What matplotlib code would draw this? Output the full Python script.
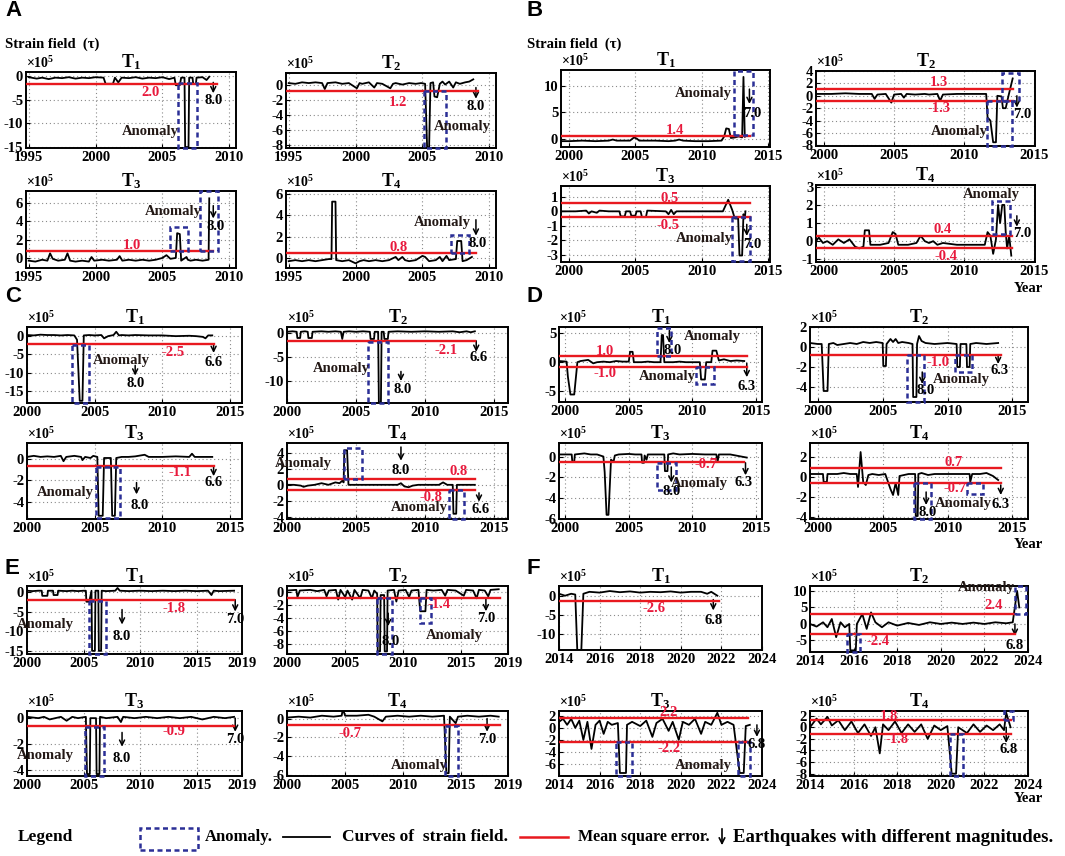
import matplotlib.pyplot as plt
from matplotlib.patches import Rectangle, FancyArrowPatch
from matplotlib.lines import Line2D

plt.rcParams['font.family'] = ['Liberation Serif', 'DejaVu Serif']
plt.rcParams['font.weight'] = 'bold'
plt.rcParams['axes.unicode_minus'] = False
plt.rcParams['mathtext.fontset'] = 'custom'
plt.rcParams['mathtext.rm'] = 'Liberation Serif'
plt.rcParams['mathtext.bf'] = 'Liberation Serif:bold'
plt.rcParams['mathtext.it'] = 'Liberation Serif:italic'

# strain field curves, (year, tau / 1e5)
A_T1 = [(1995.0, -0.2), (1995.6, -0.5), (1996.0, -0.3), (1996.5, -0.6), (1997.0, -0.3), (1997.5, -0.4),
        (1998.0, -0.2), (1998.5, -0.5), (1999.0, -0.3), (1999.5, -0.4), (2000.0, -0.2), (2000.6, -0.3),
        (2000.75, -1.6), (2001.3, -1.6), (2001.45, -0.3), (2001.7, -1.3), (2001.95, -0.3), (2002.5, -0.4),
        (2003.0, -0.2), (2003.5, -0.5), (2004.0, -0.3), (2004.5, -0.4), (2005.0, -0.2), (2005.5, -0.6),
        (2005.9, -0.3), (2006.0, -1.9), (2006.3, -1.9), (2006.4, -0.3), (2006.65, -0.3), (2006.7, -15.0),
        (2006.95, -15.0), (2007.0, -0.3), (2007.25, -0.3), (2007.3, -1.6), (2007.5, -1.6), (2007.55, -0.3),
        (2008.0, -0.2), (2008.3, -0.8), (2008.5, -0.1)]
A_T2 = [(1995.0, 0.3), (1995.5, 0.2), (1996.0, 0.4), (1996.5, 0.3), (1997.0, 0.4), (1997.5, 0.3),
        (1997.7, -0.5), (1997.9, 0.3), (1998.5, 0.4), (1999.0, 0.2), (1999.5, 0.3), (2000.1, -0.4),
        (2000.3, 0.3), (2000.5, 0.2), (2001.0, 0.4), (2001.4, -0.3), (2001.6, 0.3), (2002.0, 0.2),
        (2002.6, -0.4), (2002.8, 0.2), (2003.0, 0.3), (2003.5, 0.1), (2004.0, 0.3), (2004.5, 0.2),
        (2004.9, 0.3), (2005.2, 0.2), (2005.35, -8.3), (2005.5, -8.3), (2005.6, 0.3), (2005.8, 0.4),
        (2005.9, -1.5), (2006.1, -1.6), (2006.3, 0.2), (2006.5, 0.5), (2006.7, 0.1), (2007.0, 0.5),
        (2007.3, -0.3), (2007.5, 0.4), (2007.8, 0.2), (2008.2, 0.4), (2008.5, 0.5), (2008.8, 0.8)]
A_T3 = [(1995.0, -0.3), (1995.5, -0.4), (1996.0, -0.2), (1996.4, -0.3), (1996.6, 0.5), (1996.8, -0.1),
        (1997.2, -0.3), (1997.7, -0.2), (1997.9, 0.5), (1998.1, -0.3), (1998.5, -0.4), (1999.0, -0.3),
        (1999.5, -0.4), (1999.7, 0.1), (1999.9, -0.3), (2000.5, -0.2), (2001.0, -0.3), (2001.6, -0.2),
        (2001.8, 0.2), (2002.0, -0.3), (2002.5, -0.2), (2003.0, -0.3), (2003.5, -0.2), (2004.0, -0.3),
        (2004.5, -0.2), (2005.0, 0.0), (2005.3, 0.3), (2005.6, -0.1), (2006.0, 0.0), (2006.1, 2.7),
        (2006.3, 2.6), (2006.4, -0.3), (2006.8, 0.1), (2006.9, -0.2), (2007.1, -0.3), (2007.5, -0.2),
        (2008.0, -0.3), (2008.45, -0.2), (2008.5, 6.5)]
A_T4 = [(1995.0, -0.3), (1995.5, -0.2), (1996.0, -0.3), (1996.5, -0.2), (1997.0, -0.3), (1997.5, -0.2),
        (1998.0, -0.1), (1998.2, -0.1), (1998.25, 5.3), (1998.5, 5.3), (1998.55, -0.2), (1999.0, -0.3),
        (1999.5, -0.2), (2000.0, -0.5), (2000.3, -0.3), (2000.6, -0.2), (2001.0, -0.3), (2001.5, -0.2),
        (2002.0, -0.3), (2002.5, -0.2), (2003.0, 0.1), (2003.2, -0.2), (2003.5, 0.1), (2003.7, -0.2),
        (2004.0, -0.3), (2004.5, -0.2), (2005.0, 0.2), (2005.2, 0.1), (2005.5, -0.3), (2006.0, -0.2),
        (2006.3, 0.1), (2006.5, -0.3), (2006.8, 0.2), (2007.0, -0.2), (2007.5, -0.1), (2007.6, 1.6),
        (2007.9, 1.6), (2008.0, -0.3), (2008.3, -0.2), (2008.7, 0.1)]

B_T1 = [(1999.4, -0.4), (2000.0, -0.4), (2001.0, -0.3), (2002.0, -0.4), (2003.0, -0.3), (2003.3, -0.1),
        (2003.6, -0.3), (2004.6, -0.3), (2004.9, 0.3), (2005.1, 0.1), (2005.3, -0.3), (2006.5, -0.3),
        (2007.5, -0.4), (2008.0, -0.3), (2008.3, -0.1), (2008.6, -0.3), (2009.5, -0.4), (2010.5, -0.4),
        (2011.5, -0.3), (2011.7, 0.5), (2011.85, 2.0), (2012.05, 1.9), (2012.2, 0.2), (2012.5, 0.3),
        (2012.8, 0.5), (2013.05, 0.3), (2013.15, 11.7), (2013.25, 0.4), (2013.35, 0.6)]
B_T2 = [(1999.4, 0.3), (2000.5, 0.3), (2001.5, 0.4), (2002.5, 0.3), (2003.4, 0.3), (2003.6, -0.5),
        (2003.8, 0.2), (2004.4, 0.3), (2004.8, -1.1), (2005.0, 0.2), (2005.5, 0.3), (2005.7, -0.3),
        (2005.9, 0.3), (2006.5, 0.2), (2007.2, 0.3), (2007.5, 0.2), (2008.1, 0.3), (2008.3, -0.8),
        (2008.5, 0.2), (2009.5, 0.3), (2010.5, 0.3), (2011.6, 0.3), (2011.7, -3.5), (2011.9, -4.0),
        (2012.1, -7.5), (2012.3, -7.5), (2012.4, 0.0), (2012.7, -0.1), (2012.8, -2.0), (2013.0, -2.0),
        (2013.2, 0.0), (2013.5, 2.8)]
B_T3 = [(1999.4, 0.0), (2000.5, 0.0), (2001.3, 0.05), (2001.5, -0.15), (2001.7, 0.0), (2002.1, -0.1),
        (2002.3, 0.05), (2003.0, 0.0), (2003.8, 0.0), (2003.9, -0.35), (2004.2, -0.35), (2004.3, 0.0),
        (2004.6, 0.0), (2004.7, -0.3), (2005.0, -0.3), (2005.1, 0.0), (2005.4, 0.0), (2005.5, -0.4),
        (2005.8, -0.4), (2005.9, 0.05), (2007.3, 0.0), (2007.5, -0.2), (2007.7, 0.1), (2007.9, -0.2),
        (2008.1, 0.0), (2009.0, 0.0), (2010.5, 0.0), (2011.6, 0.0), (2012.0, 0.8), (2012.3, 0.1),
        (2012.5, -0.5), (2012.75, -0.5), (2012.85, -3.05), (2013.05, -3.05), (2013.15, -0.2),
        (2013.25, -0.5), (2013.3, 0.0)]
B_T4 = [(1999.4, 0.0), (1999.6, 0.2), (1999.9, -0.1), (2000.2, 0.0), (2000.6, -0.2), (2001.0, 0.1),
        (2001.4, -0.1), (2001.8, 0.1), (2002.2, -0.3), (2002.5, -0.4), (2002.8, -0.3), (2002.9, 0.6),
        (2003.2, 0.6), (2003.3, -0.2), (2004.0, -0.2), (2004.6, -0.1), (2004.9, 0.5), (2005.1, 0.4),
        (2005.3, -0.2), (2006.0, -0.2), (2006.6, -0.1), (2006.9, 0.3), (2007.2, 0.0), (2007.5, -0.1),
        (2007.8, 0.0), (2008.1, -0.2), (2008.5, -0.1), (2009.5, -0.2), (2010.5, -0.2), (2011.5, -0.2),
        (2011.7, 0.5), (2011.9, 0.3), (2012.1, -0.7), (2012.3, 0.1), (2012.45, 2.0), (2012.6, 1.0),
        (2012.75, 2.0), (2012.9, 2.0), (2013.0, 0.5), (2013.1, -0.4), (2013.25, 0.3), (2013.4, -0.8)]

C_T1 = [(2000.0, 0.3), (2000.5, 0.2), (2001.0, 0.4), (2001.5, 0.3), (2002.0, 0.3), (2002.5, 0.2),
        (2003.0, 0.3), (2003.5, 0.2), (2003.7, -1.0), (2003.9, -17.7), (2004.1, -17.7), (2004.2, 0.2),
        (2004.6, 0.3), (2005.0, 0.2), (2005.5, 0.3), (2005.7, -0.6), (2006.0, 0.0), (2006.4, 0.3),
        (2006.6, 1.2), (2006.8, 0.2), (2007.0, 0.3), (2007.5, 0.2), (2008.0, 0.3), (2009.0, 0.2),
        (2010.0, 0.2), (2011.0, 0.0), (2012.0, 0.1), (2012.5, 0.0), (2013.0, -0.2), (2013.2, -0.6),
        (2013.4, 0.2), (2013.7, 0.2)]
C_T2 = [(2000.0, 0.3), (2000.4, 0.4), (2000.7, 0.3), (2000.75, -1.0), (2000.95, -1.0), (2001.0, 0.3),
        (2001.3, 0.4), (2001.5, 0.3), (2001.55, -1.0), (2001.8, -1.0), (2001.85, 0.3), (2002.5, 0.4),
        (2003.0, 0.3), (2003.5, 0.4), (2003.9, 0.3), (2004.0, -1.2), (2004.1, 0.3), (2004.5, 0.4),
        (2005.0, 0.3), (2005.5, 0.4), (2006.0, 0.3), (2006.05, -1.2), (2006.3, -1.2), (2006.35, 0.3),
        (2006.6, 0.3), (2006.65, -14.5), (2006.8, -14.5), (2006.85, 0.3), (2007.0, 0.3), (2007.05, -1.2),
        (2007.3, -1.2), (2007.35, 0.3), (2008.0, 0.4), (2009.0, 0.3), (2010.0, 0.4), (2011.0, 0.3),
        (2012.0, 0.4), (2012.5, 0.2), (2013.0, 0.4), (2013.3, 0.2), (2013.6, 0.4)]
C_T3 = [(2000.0, 0.2), (2000.5, 0.3), (2001.0, 0.2), (2001.5, 0.25), (2002.0, 0.2), (2002.5, 0.3),
        (2002.7, -0.2), (2002.9, 0.2), (2003.5, 0.3), (2004.0, 0.2), (2004.1, -0.1), (2004.3, 0.2),
        (2004.7, 0.1), (2004.9, 0.3), (2005.2, 0.2), (2005.3, -5.3), (2005.6, -5.3), (2005.7, 0.1),
        (2006.2, 0.1), (2006.3, -5.3), (2006.5, -5.3), (2006.6, 0.1), (2007.0, 0.2), (2007.5, 0.2),
        (2008.0, 0.25), (2008.7, 0.4), (2009.0, 0.2), (2010.0, 0.2), (2011.0, 0.25), (2012.0, 0.2),
        (2012.2, 0.5), (2012.4, 0.2), (2013.0, 0.2), (2013.7, 0.2)]
C_T4 = [(2000.0, 0.0), (2000.5, 0.0), (2001.0, -0.1), (2001.2, -0.25), (2001.5, -0.1), (2002.0, 0.0),
        (2002.5, 0.2), (2003.0, 0.0), (2003.5, 0.3), (2003.8, 0.2), (2004.0, 0.5), (2004.1, 0.3),
        (2004.15, 4.3), (2004.35, 4.3), (2004.45, 0.0), (2005.0, 0.0), (2006.0, 0.0), (2007.0, 0.0),
        (2008.0, 0.0), (2008.25, 0.2), (2008.5, -0.2), (2008.8, -0.3), (2009.1, -0.1), (2009.5, 0.0),
        (2010.0, 0.0), (2011.0, 0.0), (2011.3, 0.3), (2011.6, 0.0), (2012.0, 0.0), (2012.05, -3.6),
        (2012.25, -3.6), (2012.3, 0.0), (2012.9, 0.0), (2013.6, 0.0)]

D_T1 = [(1999.5, 0.2), (2000.1, 0.1), (2000.2, -2.5), (2000.4, -5.6), (2000.7, -5.6), (2000.95, 0.0),
        (2001.2, 0.2), (2001.8, 0.4), (2002.2, -0.2), (2002.5, 0.0), (2003.0, 0.1), (2003.5, 0.0),
        (2004.0, 0.2), (2004.5, 0.1), (2005.0, 0.1), (2005.1, 1.8), (2005.3, 1.8), (2005.4, 0.0),
        (2006.0, 0.0), (2006.5, 0.1), (2007.0, 0.0), (2007.5, 0.0), (2007.6, 4.7), (2007.7, 4.7),
        (2007.8, 0.0), (2008.5, 0.0), (2009.0, 0.1), (2009.5, 0.0), (2010.0, 0.0), (2010.6, 0.0),
        (2010.7, -3.0), (2011.0, -3.0), (2011.1, 0.0), (2011.5, 0.0), (2011.6, 2.0), (2011.9, 2.0),
        (2012.1, 0.3), (2012.5, 0.5), (2013.0, 0.2), (2013.5, 0.3), (2014.1, 0.2)]
D_T2 = [(1999.4, 0.4), (2000.0, 0.3), (2000.3, 0.3), (2000.45, -4.4), (2000.75, -4.4), (2000.85, 0.3),
        (2001.2, 0.4), (2001.5, 0.2), (2002.0, 0.3), (2002.5, 0.4), (2003.0, 0.3), (2003.5, 0.5),
        (2004.0, 0.4), (2004.5, 0.5), (2005.0, 0.4), (2005.05, -1.9), (2005.25, -1.9), (2005.3, 0.3),
        (2005.6, 0.8), (2005.8, 0.5), (2006.0, 0.8), (2006.2, 0.4), (2006.5, 0.5), (2007.0, 0.4),
        (2007.3, 0.3), (2007.35, -5.0), (2007.6, -5.0), (2007.65, 0.3), (2007.8, 1.1), (2008.0, 0.6),
        (2008.3, 0.4), (2009.0, 0.3), (2010.0, 0.4), (2010.7, 0.3), (2010.75, -2.0), (2010.95, -2.0),
        (2011.0, 0.3), (2011.45, 0.3), (2011.5, -2.0), (2011.7, -2.0), (2011.75, 0.3), (2012.2, 0.4),
        (2013.0, 0.3), (2013.9, 0.4)]
D_T3 = [(1999.5, 0.2), (2000.0, 0.2), (2000.5, 0.2), (2000.55, -0.5), (2000.7, -0.5), (2000.75, 0.2),
        (2001.5, 0.3), (2002.0, 0.2), (2002.5, 0.2), (2003.0, 0.0), (2003.1, -1.5), (2003.25, -5.6),
        (2003.4, -5.6), (2003.6, -0.3), (2003.8, -0.5), (2003.9, 0.1), (2004.2, 0.2), (2005.0, 0.25),
        (2005.5, 0.2), (2006.0, 0.2), (2006.05, -0.6), (2006.2, -0.6), (2006.25, 0.1), (2006.4, -0.3),
        (2006.5, 0.2), (2007.0, 0.2), (2007.8, 0.2), (2007.85, -1.4), (2008.05, -1.4), (2008.1, 0.2),
        (2008.5, 0.3), (2009.0, 0.2), (2010.0, 0.25), (2011.0, 0.2), (2011.9, 0.2), (2012.0, -0.5),
        (2012.1, 0.2), (2013.0, 0.2), (2014.3, -0.1)]
D_T4 = [(1999.4, 0.3), (2000.0, 0.3), (2000.4, 0.3), (2000.45, -0.5), (2000.7, -0.5), (2000.75, 0.3),
        (2001.5, 0.3), (2002.0, 0.4), (2002.5, 0.3), (2003.0, 0.3), (2003.1, -1.0), (2003.3, 2.5),
        (2003.5, -0.5), (2003.7, -0.8), (2003.9, 0.2), (2004.2, 0.3), (2004.7, 0.2), (2005.2, 0.3),
        (2005.6, -1.2), (2005.8, -1.8), (2006.0, -0.6), (2006.2, -1.8), (2006.3, 0.1), (2007.0, 0.3),
        (2007.5, 0.3), (2007.55, -3.9), (2007.7, -3.9), (2007.75, 0.3), (2008.0, 0.4), (2008.5, 0.2),
        (2009.0, 0.3), (2010.0, 0.3), (2011.0, 0.3), (2011.7, 0.3), (2011.75, -0.5), (2011.9, 0.3),
        (2012.5, 0.3), (2013.0, 0.4), (2013.5, 0.1), (2013.9, -0.3)]

E_T1 = [(2000.0, 0.3), (2000.5, 0.2), (2001.0, 0.3), (2001.3, 0.3), (2001.35, -1.0), (2001.8, -1.0),
        (2001.85, 0.3), (2002.3, 0.3), (2002.35, -0.8), (2002.7, -0.8), (2002.75, 0.3), (2003.5, 0.2),
        (2004.0, 0.3), (2004.5, 0.2), (2005.0, 0.3), (2005.2, 0.3), (2005.25, -2.5), (2005.5, -2.5),
        (2005.7, 0.3), (2005.75, -15.0), (2006.0, -15.0), (2006.05, 0.3), (2006.3, 0.3), (2006.35, -15.0),
        (2006.55, -15.0), (2006.6, 0.3), (2007.0, 0.2), (2007.8, 0.3), (2008.0, 1.0), (2008.2, 0.3),
        (2009.0, 0.2), (2010.0, 0.3), (2011.0, 0.2), (2012.0, 0.3), (2013.0, 0.2), (2014.0, 0.3),
        (2015.0, 0.2), (2016.0, 0.3), (2016.3, -0.8), (2016.5, 0.3), (2017.0, 0.2), (2018.3, 0.3)]
E_T2 = [(2000.0, 0.2), (2000.8, 0.3), (2000.9, -0.8), (2001.1, 0.2), (2002.0, 0.3), (2002.6, 0.1),
        (2003.2, 0.3), (2003.4, -0.7), (2003.6, 0.2), (2004.2, 0.3), (2004.4, -1.2), (2004.6, 0.3),
        (2005.0, -0.8), (2005.2, 0.2), (2005.6, -1.2), (2005.8, 0.3), (2006.3, -1.0), (2006.5, 0.3),
        (2007.0, 0.2), (2007.3, -1.0), (2007.5, 0.2), (2007.75, -0.3), (2007.8, -9.2), (2008.0, -9.2),
        (2008.05, -0.5), (2008.35, -0.5), (2008.4, -9.2), (2008.6, -9.2), (2008.65, 0.2), (2009.2, 0.3),
        (2009.4, -1.5), (2009.6, 0.2), (2010.2, 0.3), (2010.5, -0.8), (2010.7, 0.2), (2011.3, 0.3),
        (2011.45, -3.0), (2011.9, -3.0), (2012.0, 0.3), (2012.6, 0.2), (2013.3, 0.3), (2013.6, -0.6),
        (2013.8, 0.3), (2014.5, 0.2), (2015.2, -0.6), (2015.4, 0.3), (2016.0, 0.2), (2016.3, -1.0),
        (2016.5, 0.3), (2017.0, 0.2), (2017.3, -0.7), (2017.5, 0.3), (2018.2, 0.4)]
E_T3 = [(2000.0, 0.1), (2001.0, 0.0), (2001.5, 0.1), (2002.0, -0.1), (2003.0, 0.1), (2003.5, -0.2),
        (2004.0, 0.1), (2004.5, 0.0), (2005.2, 0.1), (2005.3, -4.3), (2005.55, -4.3), (2005.6, 0.0),
        (2006.1, 0.0), (2006.15, -4.3), (2006.4, -4.3), (2006.45, 0.1), (2007.0, 0.0), (2008.0, 0.1),
        (2008.3, -0.3), (2008.5, 0.1), (2009.5, 0.0), (2010.5, 0.1), (2011.5, 0.0), (2012.5, 0.1),
        (2013.5, 0.0), (2014.5, 0.1), (2015.5, -0.1), (2016.5, 0.1), (2017.5, 0.0), (2018.3, 0.1)]
E_T4 = [(2000.0, 0.1), (2001.0, 0.2), (2002.0, 0.1), (2003.0, 0.3), (2004.0, 0.2), (2004.7, 0.3),
        (2004.8, 1.0), (2005.0, 0.3), (2006.0, 0.3), (2007.0, 0.4), (2007.5, 0.2), (2008.2, -0.3),
        (2008.5, 0.2), (2009.5, 0.3), (2010.5, 0.2), (2011.5, 0.3), (2012.5, 0.2), (2013.5, 0.3),
        (2013.7, -5.8), (2013.9, -5.8), (2014.0, 0.2), (2014.5, -0.5), (2014.7, 0.2), (2015.5, 0.3),
        (2016.5, 0.2), (2017.5, 0.3), (2018.2, 0.2)]

F_T1 = [(2014.0, 0.5), (2014.3, 0.0), (2014.6, 0.5), (2014.8, 0.3), (2014.9, -14.0), (2015.1, -14.0),
        (2015.2, 0.5), (2015.5, 1.0), (2016.0, 0.8), (2016.5, 1.2), (2017.0, 0.9), (2017.5, 1.1),
        (2018.0, 0.8), (2018.5, 1.0), (2019.0, 0.9), (2019.5, 1.1), (2020.0, 0.8), (2020.5, 1.0),
        (2021.0, 1.0), (2021.3, 0.5), (2021.5, 1.0), (2021.8, 0.0)]
F_T2 = [(2014.0, 0.0), (2014.3, -0.8), (2014.6, 0.5), (2014.8, -1.0), (2015.0, 1.5), (2015.2, -4.0),
        (2015.4, 0.5), (2015.6, -1.0), (2015.8, 0.0), (2015.85, -8.0), (2016.1, -8.0), (2016.15, 0.0),
        (2016.4, 3.0), (2016.6, -1.5), (2016.8, 3.5), (2017.0, 0.5), (2017.3, -1.0), (2017.6, 0.5),
        (2018.0, -0.5), (2018.5, 0.3), (2019.0, -0.3), (2019.5, 0.5), (2020.0, 0.0), (2020.5, 0.4),
        (2021.0, 0.0), (2021.5, 0.4), (2022.0, 0.0), (2022.5, 0.5), (2023.0, 0.2), (2023.3, 0.5),
        (2023.5, 10.0), (2023.6, 5.0)]
F_T3 = [(2014.0, 1.0), (2014.2, 1.5), (2014.4, 0.5), (2014.6, 1.5), (2014.8, 0.0), (2015.0, 1.2),
        (2015.2, -2.0), (2015.4, 1.0), (2015.6, -3.5), (2015.8, 0.5), (2016.0, 1.2), (2016.2, -1.0),
        (2016.4, 1.0), (2016.6, 0.5), (2016.9, 0.8), (2017.0, -7.5), (2017.3, -7.5), (2017.35, 0.5),
        (2017.6, 1.0), (2018.0, 0.3), (2018.3, 1.2), (2018.6, -1.5), (2018.8, 0.8), (2019.1, 1.5),
        (2019.4, -0.5), (2019.6, 1.0), (2019.9, -2.0), (2020.1, 1.0), (2020.4, 0.5), (2020.7, 1.5),
        (2021.0, -1.0), (2021.2, 1.0), (2021.5, 0.5), (2021.8, 2.5), (2022.0, 0.5), (2022.3, 1.0),
        (2022.6, 0.5), (2022.9, -7.5), (2023.1, -7.5), (2023.2, 0.3), (2023.4, 0.5)]
F_T4 = [(2014.0, 0.0), (2014.3, 1.5), (2014.5, 0.5), (2014.8, 1.8), (2015.0, 0.3), (2015.3, 1.2),
        (2015.6, -0.5), (2015.9, 1.0), (2016.2, -1.0), (2016.5, 0.5), (2016.8, -1.5), (2017.0, 0.0),
        (2017.2, -4.5), (2017.35, 0.5), (2017.6, -0.5), (2017.9, 1.0), (2018.2, -1.0), (2018.5, 0.5),
        (2018.8, -0.8), (2019.1, 0.5), (2019.4, -2.0), (2019.7, 0.3), (2020.0, -0.5), (2020.3, 0.2),
        (2020.5, -8.0), (2020.7, -8.0), (2020.8, 0.0), (2021.2, -1.0), (2021.5, 0.5), (2021.8, -0.8),
        (2022.1, 0.3), (2022.4, -0.5), (2022.7, 0.5), (2022.9, -0.5), (2023.0, 2.5), (2023.2, 0.0)]

# mean square error lines (value, printed label)
mse = {
    'A1': ([-1.7], ['2.0']), 'A2': ([-0.8], ['1.2']), 'A3': ([0.75], ['1.0']), 'A4': ([0.45], ['0.8']),
    'B1': ([0.6], ['1.4']), 'B2': ([1.1, -0.9], ['1.3', '-1.3']), 'B3': ([0.55, -0.4], ['0.5', '-0.5']),
    'B4': ([0.3, -0.4], ['0.4', '-0.4']),
    'C1': ([-2.2], ['-2.5']), 'C2': ([-1.6], ['-2.1']), 'C3': ([-0.63], ['-1.1']),
    'C4': ([0.7, -0.68], ['0.8', '-0.8']),
    'D1': ([1.0, -0.85], ['1.0', '-1.0']), 'D2': ([-0.8], ['-1.0']), 'D3': ([-0.5], ['-0.7']),
    'D4': ([0.9, -0.6], ['0.7', '-0.7']),
    'E1': ([-2.0], ['-1.8']), 'E2': ([-1.0], ['-1.4']), 'E3': ([-0.6], ['-0.9']), 'E4': ([-0.7], ['-0.7']),
    'F1': ([-1.3], ['-2.6']), 'F2': ([3.0, -3.0], ['2.4', '-2.4']), 'F3': ([1.7, -2.3], ['2.2', '-2.2']),
    'F4': ([1.2, -1.2], ['1.8', '-1.8']),
}
# anomaly windows (year from, year to, tau from, tau to)
anomaly = {
    'A1': [(2006.2, 2007.6, -1.5, -15.2)], 'A2': [(2005.1, 2006.75, -0.8, -8.35)],
    'A3': [(2005.6, 2006.9, 0.75, 3.4), (2007.8, 2009.15, 0.75, 7.3)], 'A4': [(2007.1, 2008.5, 0.45, 2.15)],
    'B1': [(2012.4, 2013.9, 0.7, 12.8)], 'B2': [(2011.65, 2013.45, -0.8, -8.1), (2012.7, 2013.95, -0.8, 3.6)],
    'B3': [(2012.3, 2013.65, -0.4, -3.45)], 'B4': [(2012.0, 2013.3, 0.4, 2.2)],
    'C1': [(2003.3, 2004.6, -2.5, -18.3)], 'C2': [(2005.9, 2007.3, -1.8, -14.6)],
    'C3': [(2005.1, 2006.9, -0.7, -5.5)], 'C4': [(2004.1, 2005.4, 0.7, 4.6), (2011.7, 2012.85, -0.7, -4.2)],
    'D1': [(2007.25, 2008.3, 1.0, 6.0), (2010.3, 2011.7, -0.9, -3.8)],
    'D2': [(2006.9, 2008.2, -0.8, -5.5), (2010.6, 2011.9, -0.8, -2.5)],
    'D3': [(2007.25, 2008.7, -0.6, -3.2)], 'D4': [(2007.4, 2008.75, -0.6, -4.2), (2011.5, 2012.75, -0.6, -1.7)],
    'E1': [(2005.5, 2007.0, -2.3, -15.8)], 'E2': [(2007.7, 2009.0, -1.0, -9.6), (2011.4, 2012.4, -1.0, -4.8)],
    'E3': [(2005.1, 2006.8, -0.7, -4.45)], 'E4': [(2013.6, 2014.7, -0.8, -6.1)],
    'F1': [], 'F2': [(2015.7, 2016.3, -3.0, -8.5), (2023.4, 2023.9, 3.0, 11.5)],
    'F3': [(2016.8, 2017.6, -2.3, -8.0), (2022.8, 2023.4, -2.3, -8.0)],
    'F4': [(2020.4, 2021.0, -1.2, -8.4), (2022.9, 2023.3, 1.2, 2.8)],
}
# earthquakes (year, magnitude)
quakes = {
    'A1': [(2008.8, '8.0')], 'A2': [(2009.0, '8.0')], 'A3': [(2008.8, '8.0')], 'A4': [(2009.0, '8.0')],
    'B1': [(2013.6, '7.0')], 'B2': [(2013.8, '7.0')], 'B3': [(2013.4, '7.0')], 'B4': [(2013.8, '7.0')],
    'C1': [(2008.0, '8.0'), (2013.8, '6.6')], 'C2': [(2008.25, '8.0'), (2013.7, '6.6')],
    'C3': [(2008.1, '8.0'), (2013.8, '6.6')], 'C4': [(2008.25, '8.0'), (2013.9, '6.6')],
    'D1': [(2008.2, '8.0'), (2014.3, '6.3')], 'D2': [(2008.05, '8.0'), (2013.9, '6.3')],
    'D3': [(2008.35, '8.0'), (2014.2, '6.3')], 'D4': [(2008.35, '8.0'), (2014.1, '6.3')],
    'E1': [(2008.4, '8.0'), (2018.4, '7.0')], 'E2': [(2008.7, '8.0'), (2017.1, '7.0')],
    'E3': [(2008.4, '8.0'), (2018.4, '7.0')], 'E4': [(2017.2, '7.0')],
    'F1': [(2021.6, '6.8')], 'F2': [(2023.4, '6.8')], 'F3': [(2023.75, '6.8')], 'F4': [(2023.0, '6.8')],
}
curves = {'A1': A_T1, 'A2': A_T2, 'A3': A_T3, 'A4': A_T4, 'B1': B_T1, 'B2': B_T2, 'B3': B_T3, 'B4': B_T4,
          'C1': C_T1, 'C2': C_T2, 'C3': C_T3, 'C4': C_T4, 'D1': D_T1, 'D2': D_T2, 'D3': D_T3, 'D4': D_T4,
          'E1': E_T1, 'E2': E_T2, 'E3': E_T3, 'E4': E_T4, 'F1': F_T1, 'F2': F_T2, 'F3': F_T3, 'F4': F_T4}

# layout: pixel box, limits, ticks, where the texts sit
YA = [1995, 2000, 2005, 2010]
YB = [2000, 2005, 2010, 2015]
YE = [2000, 2005, 2010, 2015, 2019]
YF = [2014, 2016, 2018, 2020, 2022, 2024]
layout = {
    'A1': dict(px=(26, 72, 236, 148), xl=(1994.8, 2010.5), yl=(-15.2, 0.9), xt=YA, yt=[0, -5, -10, -15], end=2009.1,
               lab=[(2004.1, -3.4)], anom=[(2004.1, -11.8)], arr=[(-1.3, -3.6, 2008.8, -5.1)]),
    'A2': dict(px=(286, 73, 496, 148), xl=(1994.8, 2010.5), yl=(-8.4, 1.65), xt=YA, yt=[0, -2, -4, -6, -8], end=2009.15,
               lab=[(2003.2, -2.3)], anom=[(2008.0, -5.5)], arr=[(-0.3, -1.8, 2009.0, -2.9)]),
    'A3': dict(px=(26, 191, 236, 268), xl=(1994.8, 2010.5), yl=(-1.1, 7.3), xt=YA, yt=[0, 2, 4, 6], end=2008.8,
               lab=[(2002.7, 1.4)], anom=[(2005.8, 5.1)], arr=[(5.7, 4.3, 2009.0, 3.4)]),
    'A4': dict(px=(286, 191, 496, 268), xl=(1994.8, 2010.5), yl=(-0.94, 6.3), xt=YA, yt=[0, 2, 4, 6], end=2009.0,
               lab=[(2003.2, 1.0)], anom=[(2006.5, 3.3)], arr=[(3.6, 2.1, 2009.1, 1.4)]),
    'B1': dict(px=(561, 70, 770, 147), xl=(1999.4, 2015.15), yl=(-1.5, 13), xt=YB, yt=[0, 5, 10], end=2013.65,
               lab=[(2008.0, 1.7)], anom=[(2010.1, 8.5)], arr=[(9.4, 6.6, 2013.85, 4.9)]),
    'B2': dict(px=(816, 71, 1035, 146), xl=(1999.4, 2015.1), yl=(-8.1, 4), xt=YB, yt=[4, 2, 0, -2, -4, -6, -8],
               end=2013.5, lab=[(2008.2, 2.2), (2008.2, -2.1)], anom=[(2009.7, -5.8)],
               arr=[(0.0, -1.9, 2014.2, -3.0)]),
    'B3': dict(px=(561, 186, 770, 262), xl=(1999.4, 2015.15), yl=(-3.5, 1.75), xt=YB, yt=[1, 0, -1, -2, -3],
               end=2013.65, lab=[(2007.6, 0.9), (2007.5, -0.95)], anom=[(2010.2, -1.9)],
               arr=[(-0.9, -1.7, 2013.8, -2.3)]),
    'B4': dict(px=(816, 185, 1035, 262), xl=(1999.4, 2015.1), yl=(-1.15, 3.1), xt=YB, yt=[3, 2, 1, 0, -1],
               end=2013.45, lab=[(2008.5, 0.65), (2008.7, -0.85)], anom=[(2012.0, 2.55)],
               arr=[(1.4, 0.8, 2014.2, 0.4)]),
    'C1': dict(px=(27, 327, 242, 403), xl=(2000, 2015.9), yl=(-18.3, 2.5), xt=YB, yt=[0, -5, -10, -15], end=2013.8,
               lab=[(2010.8, -4.4)], anom=[(2007.0, -6.6)], arr=[(-8.0, -10.8, 2008.05, -13.0), (-2.4, -4.6, 2013.8, -7.2)]),
    'C2': dict(px=(287, 327, 508, 403), xl=(2000, 2016), yl=(-14.6, 1.3), xt=YB, yt=[0, -5, -10], end=2013.6,
               lab=[(2011.5, -3.6)], anom=[(2003.9, -7.3)], arr=[(-8.0, -10.0, 2008.4, -11.8), (-1.6, -3.9, 2013.9, -5.1)]),
    'C3': dict(px=(27, 443, 242, 519), xl=(2000, 2015.9), yl=(-5.6, 1.5), xt=YB, yt=[0, -2, -4], end=2013.8,
               lab=[(2011.3, -1.3)], anom=[(2002.8, -3.1)], arr=[(-2.2, -3.3, 2008.3, -4.3), (-0.65, -1.6, 2013.8, -2.2)]),
    'C4': dict(px=(287, 443, 508, 519), xl=(2000, 2016), yl=(-4.25, 5.2), xt=YB, yt=[4, 2, 0, -2, -4], end=2013.6,
               lab=[(2012.4, 1.7), (2010.4, -1.6)], anom=[(2001.2, 2.7), (2009.6, -2.8)],
               arr=[(4.7, 3.0, 2008.25, 1.8), (-1.0, -2.1, 2014.0, -3.1)]),
    'D1': dict(px=(559, 327, 762, 402), xl=(1999.5, 2015.5), yl=(-6.9, 6.1), xt=YB, yt=[5, 0, -5], end=2014.3,
               lab=[(2003.1, 1.8), (2003.1, -1.9)], anom=[(2011.6, 4.4), (2008.05, -2.4)],
               arr=[(5.5, 3.3, 2008.45, 2.0), (-0.2, -2.6, 2014.3, -4.2)]),
    'D2': dict(px=(810, 327, 1028, 402), xl=(1999.4, 2016.2), yl=(-5.5, 2.0), xt=YB, yt=[2, 0, -2, -4], end=2014.1,
               lab=[(2009.3, -1.55)], anom=[(2011.1, -3.3)], arr=[(-2.5, -3.7, 2008.3, -4.4), (-0.8, -1.7, 2014.0, -2.4)]),
    'D3': dict(px=(559, 443, 762, 519), xl=(1999.5, 2015.5), yl=(-6, 1.3), xt=YB, yt=[0, -2, -4, -6], end=2014.1,
               lab=[(2011.1, -0.75)], anom=[(2010.6, -2.55)], arr=[(-1.0, -2.5, 2008.35, -3.35), (-0.6, -1.8, 2014.05, -2.5)]),
    'D4': dict(px=(810, 443, 1028, 519), xl=(1999.4, 2016.2), yl=(-4.2, 3.4), xt=YB, yt=[2, 0, -2, -4], end=2014.1,
               lab=[(2010.45, 1.4), (2010.6, -1.2)], anom=[(2011.2, -2.6)],
               arr=[(-1.5, -2.8, 2008.5, -3.5), (-0.8, -1.8, 2014.1, -2.8)]),
    'E1': dict(px=(27, 586, 242, 654), xl=(2000, 2019), yl=(-15.8, 1.5), xt=YE, yt=[0, -5, -10, -15], end=2018.3,
               lab=[(2013.0, -4.3)], anom=[(2001.6, -8.2)], arr=[(-4.5, -8.3, 2008.4, -11.3), (-2.0, -5.0, 2018.4, -7.0)]),
    'E2': dict(px=(287, 586, 508, 654), xl=(2000, 2019), yl=(-9.6, 0.9), xt=YE, yt=[0, -2, -4, -6, -8], end=2018.3,
               lab=[(2013.1, -1.9)], anom=[(2014.4, -6.7)], arr=[(-3.3, -5.3, 2008.9, -7.7), (-1.0, -3.0, 2017.1, -4.1)]),
    'E3': dict(px=(27, 711, 242, 776), xl=(2000, 2019), yl=(-4.45, 0.55), xt=YE, yt=[0, -2, -4], end=2018.3,
               lab=[(2013.0, -1.05)], anom=[(2001.6, -2.9)], arr=[(-1.1, -2.2, 2008.4, -3.1), (0.0, -1.05, 2018.4, -1.65)]),
    'E4': dict(px=(287, 711, 508, 776), xl=(2000, 2019), yl=(-6.1, 0.8), xt=YE, yt=[0, -2, -4, -6], end=2018.3,
               lab=[(2005.4, -1.6)], anom=[(2011.4, -5.0)], arr=[(0.0, -1.4, 2017.2, -2.2)]),
    'F1': dict(px=(559, 586, 762, 650), xl=(2014, 2024), yl=(-14, 2.5), xt=YF, yt=[0, -5, -10], end=2021.9,
               lab=[(2018.7, -3.3)], anom=[], arr=[(-1.0, -3.8, 2021.6, -6.5)]),
    'F2': dict(px=(810, 586, 1028, 652), xl=(2014, 2024), yl=(-8.5, 11.5), xt=YF, yt=[10, 5, 0, -5], end=2023.4,
               lab=[(2022.4, 5.5), (2017.1, -5.2)], anom=[(2022.1, 10.9)], arr=[(0.0, -3.6, 2023.4, -6.4)]),
    'F3': dict(px=(559, 711, 762, 776), xl=(2014, 2024), yl=(-8, 2.8), xt=YF, yt=[2, 0, -2, -4, -6], end=2023.3,
               lab=[(2019.4, 2.6), (2019.4, -3.5)], anom=[(2021.1, -6.3)], arr=[(0.5, -1.5, 2023.75, -2.7)]),
    'F4': dict(px=(810, 711, 1028, 776), xl=(2014, 2024), yl=(-8.4, 2.8), xt=YF, yt=[2, 0, -2, -4, -6, -8],
               end=2023.2, lab=[(2017.6, 1.9), (2018.0, -2.1)], anom=[], arr=[(0.0, -2.7, 2023.1, -3.8)]),
}

RED = '#e8191f'
RED_TXT = '#e8193c'
BLUE = '#2b2f96'
W, H = 1065, 856

fig = plt.figure(figsize=(W / 100, H / 100), dpi=100)

for key, L in layout.items():
    l, t, r, b = L['px']
    ax = fig.add_axes([l / W, 1 - b / H, (r - l) / W, (b - t) / H])
    curve = curves[key]
    ax.plot([p[0] for p in curve], [p[1] for p in curve], color='black', lw=1.3, zorder=3)
    vals, names = mse[key]
    for v in vals:
        ax.plot([L['xl'][0], L['end']], [v, v], color=RED, lw=1.7, zorder=4)
    for name, (x, y) in zip(names, L['lab']):
        ax.text(x, y, name, color=RED_TXT, fontsize=10.5, ha='center', va='center', zorder=6)
    for x0, x1, y0, y1 in anomaly[key]:
        ax.add_patch(Rectangle((x0, y0), x1 - x0, y1 - y0, fill=False, ec=BLUE, lw=1.8,
                               ls=(0, (2, 1.4)), clip_on=False, zorder=5))
    for x, y in L['anom']:
        ax.text(x, y, 'Anomaly', color='#231815', fontsize=10.5, ha='center', va='center', zorder=6)
    for (yr, mag), (y0, y1, xt, yt) in zip(quakes[key], L['arr']):
        ax.annotate('', xy=(yr, y1), xytext=(yr, y0), annotation_clip=False,
                    arrowprops=dict(arrowstyle='->', color='black', lw=1.1, shrinkA=0, shrinkB=0,
                                    mutation_scale=9))
        ax.text(xt, yt, mag, color='black', fontsize=10.5, ha='center', va='center', zorder=6)
    ax.set_xlim(L['xl'])
    ax.set_ylim(L['yl'])
    ax.set_xticks(L['xt'])
    ax.set_yticks(L['yt'])
    ax.grid(True, ls=(0, (1, 2.5)), color='#8a8a8a', lw=0.8)
    ax.tick_params(direction='in', length=3, labelsize=10.5, pad=2)
    for s in ax.spines.values():
        s.set_linewidth(1.4)
    ax.set_title(r'$\mathbf{T_%s}$' % key[1], fontsize=13, pad=0)
    ax.text(0.0, 1.015, r'$\times10^5$', transform=ax.transAxes, fontsize=10, ha='left', va='bottom')

# panel letters and headers
for letter, x, y in [('A', 5, 10), ('B', 527, 10), ('C', 5, 297), ('D', 527, 297), ('E', 5, 568), ('F', 527, 568)]:
    fig.text(x / W, 1 - y / H, letter, fontsize=16, fontweight='bold', family='Liberation Sans', va='center')
for x in [5, 527]:
    fig.text(x / W, 1 - 44 / H, 'Strain field  (\u03c4)', fontsize=10.5, va='center')
for y in [289, 545, 799]:
    fig.text(1028 / W, 1 - y / H, 'Year', fontsize=10.5, ha='center', va='center')

# legend row
ly = 1 - 837 / H
fig.text(18 / W, ly, 'Legend', fontsize=12.5, va='center')
fig.add_artist(Rectangle((140 / W, 1 - 850 / H), 58 / W, 22 / H, transform=fig.transFigure, fill=False,
                         ec=BLUE, lw=1.8, ls=(0, (2, 1.4))))
fig.text(205 / W, ly, 'Anomaly.', fontsize=12, va='center')
fig.add_artist(Line2D([283 / W, 330 / W], [ly, ly], color='black', lw=1.3, transform=fig.transFigure))
fig.text(342 / W, ly, 'Curves of  strain field.', fontsize=12.5, va='center')
fig.add_artist(Line2D([520 / W, 568 / W], [ly, ly], color=RED, lw=1.8, transform=fig.transFigure))
fig.text(578 / W, ly, 'Mean square error.', fontsize=11.5, va='center')
fig.add_artist(FancyArrowPatch((722 / W, 1 - 826 / H), (722 / W, 1 - 848 / H), transform=fig.transFigure,
                               arrowstyle='->', mutation_scale=10, lw=1.2, color='black'))
fig.text(733 / W, ly, 'Earthquakes with different magnitudes.', fontsize=13.5, va='center')

fig.savefig('out.png', dpi=100)
